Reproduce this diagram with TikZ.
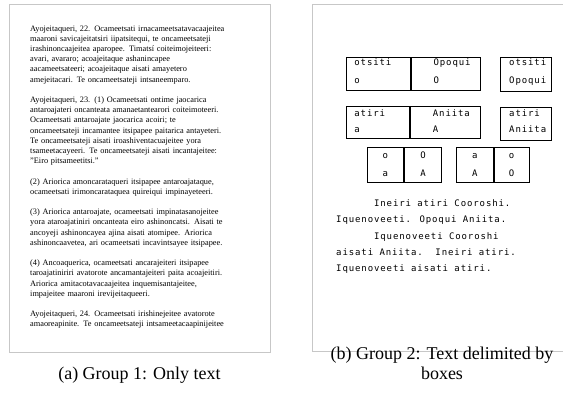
\documentclass[tikz,border=0pt]{standalone}
\usepackage{fontspec}
\setmainfont{Liberation Serif}
\newfontfamily\typerfont[LetterSpace=10]{DejaVu Sans Mono}
\usetikzlibrary{positioning}

\tikzset{
  panel/.style={rectangle, draw=black!22, line width=1.3pt, inner sep=0, anchor=north west},
  cell/.style={rectangle, draw=black, line width=0.9pt, inner sep=0, anchor=north west},
  typed/.style={inner sep=0, align=left, font=\typerfont\fontsize{9}{18}\selectfont},
  caption/.style={inner sep=0, align=center, font=\fontsize{18}{20}\selectfont}
}

\begin{document}
\begin{tikzpicture}[x=1pt, y=-1pt, node distance=0]
\useasboundingbox (0,0) rectangle (563,405);

\node[panel, minimum width=261, minimum height=348](onlyText) at (9,4) {};
\node[panel, minimum width=270, minimum height=347](boxedText) at (312,4) {};

\node[inner sep=0, anchor=base west, text width=235, align=left, font=\fontsize{8.3}{10.2}\selectfont](pageText) at (30,31) {Ayojeitaqueri, 22. Ocameetsati irnacameetsatavacaajeitea\\
maaroni savicajeitatsiri iipatsitequi, te oncameetsateji\\
irashinoncaajeitea aparopee. Timatsí coiteimojeiteeri:\\
avari, avararo; acoajeitaque ashanincapee\\
aacameetsateeri; acoajeitaque aisati amayetero\\
amejeitacari. Te oncameetsateji intsaneemparo.\\[10.2pt]
Ayojeitaqueri, 23. (1) Ocameetsati ontime jaocarica\\
antaroajateri oncanteata amanaetantearori coiteimoteeri.\\
Ocameetsati antaroajate jaocarica acoiri; te\\
oncameetsateji incamantee itsipapee paitarica antayeteri.\\
Te oncameetsateji aisati iroashiventacuajeitee yora\\
tsameetacayeeri. Te oncameetsateji aisati incantajeitee:\\
''Eiro pitsameetitsi.''\\[10.2pt]
(2) Ariorica amoncarataqueri itsipapee antaroajataque,\\
ocameetsati irimoncarataquea quireiqui impinayeteeri.\\[10.2pt]
(3) Ariorica antaroajate, ocameetsati impinatasanojeitee\\
yora ataroajatiniri oncanteata eiro ashinoncatsi. Aisati te\\
ancoyeji ashinoncayea ajina aisati atomipee. Ariorica\\
ashinoncaavetea, ari ocameetsati incavintsayee itsipapee.\\[10.2pt]
(4) Ancoaquerica, ocameetsati ancarajeiteri itsipapee\\
taroajatiniriri avatorote ancamantajeiteri paita acoajeitiri.\\
Ariorica amitacotavacaajeitea inquemisantajeitee,\\
impajeitee maaroni irevijeitaqueeri.\\[10.2pt]
Ayojeitaqueri, 24. Ocameetsati irishinejeitee avatorote\\
amaoreapinite. Te oncameetsateji intsameetacaapinijeitee};

\node[cell, minimum width=64.3, minimum height=33](otsitiCell) at (345.7,57.3) {};
\node[cell, minimum width=69.3, minimum height=33](opoquiCell)[right=of otsitiCell] {};
\node[typed, anchor=base west] at ([shift={(8.5,26.5)}]otsitiCell.north west) {otsiti\\o};
\node[typed, anchor=base west] at ([shift={(22.5,26.5)}]opoquiCell.north west) {Opoqui\\O};
\node[cell, minimum width=50.7, minimum height=33.4](otsitiBox) at (500,57.3) {};
\node[typed, anchor=base west] at ([shift={(9,26.5)}]otsitiBox.north west) {otsiti\\Opoqui};

\node[cell, minimum width=63.6, minimum height=32.3](atiriCell) at (345.7,106) {};
\node[cell, minimum width=69.7, minimum height=32.3](aniitaCell)[right=of atiriCell] {};
\node[typed, anchor=base west, font=\typerfont\fontsize{9}{16}\selectfont] at ([shift={(8.5,26.5)}]atiriCell.north west) {atiri\\a};
\node[typed, anchor=base west, font=\typerfont\fontsize{9}{16}\selectfont] at ([shift={(22.5,26.5)}]aniitaCell.north west) {Aniita\\A};
\node[cell, minimum width=50.7, minimum height=33.3](atiriBox) at (500,106.7) {};
\node[typed, anchor=base west, font=\typerfont\fontsize{9}{16}\selectfont] at ([shift={(9,26)}]atiriBox.north west) {atiri\\Aniita};

\node[cell, minimum width=36.6, minimum height=35](oCell) at (366.7,146.7) {};
\node[cell, minimum width=36.7, minimum height=35](bigOCell)[right=of oCell] {};
\node[cell, minimum width=36.7, minimum height=35](aCell) at (456,146.7) {};
\node[cell, minimum width=35, minimum height=35](smallOCell)[right=of aCell] {};
\node[typed, align=center, anchor=base] at ([shift={(0,29.3)}]oCell.north) {o\\a};
\node[typed, align=center, anchor=base] at ([shift={(0,29.3)}]bigOCell.north) {O\\A};
\node[typed, align=center, anchor=base] at ([shift={(0,29.3)}]aCell.north) {a\\A};
\node[typed, align=center, anchor=base] at ([shift={(0,29.3)}]smallOCell.north) {o\\O};

\node[typed, anchor=base west, font=\typerfont\fontsize{9}{16.3}\selectfont](storyText) at (336,271.7) {\hspace*{37.9pt}Ineiri atiri Cooroshi.\\
Iquenoveeti. Opoqui Aniita.\\
\hspace*{37.9pt}Iquenoveeti Cooroshi\\
aisati Aniita.\ \ Ineiri atiri.\\
Iquenoveeti aisati atiri.};

\node[caption, anchor=base](captionA) at (139.5,379) {(a) Group 1: Only text};
\node[caption, anchor=base](captionB) at (442,379) {(b) Group 2: Text delimited by\\boxes};

\end{tikzpicture}
\end{document}
